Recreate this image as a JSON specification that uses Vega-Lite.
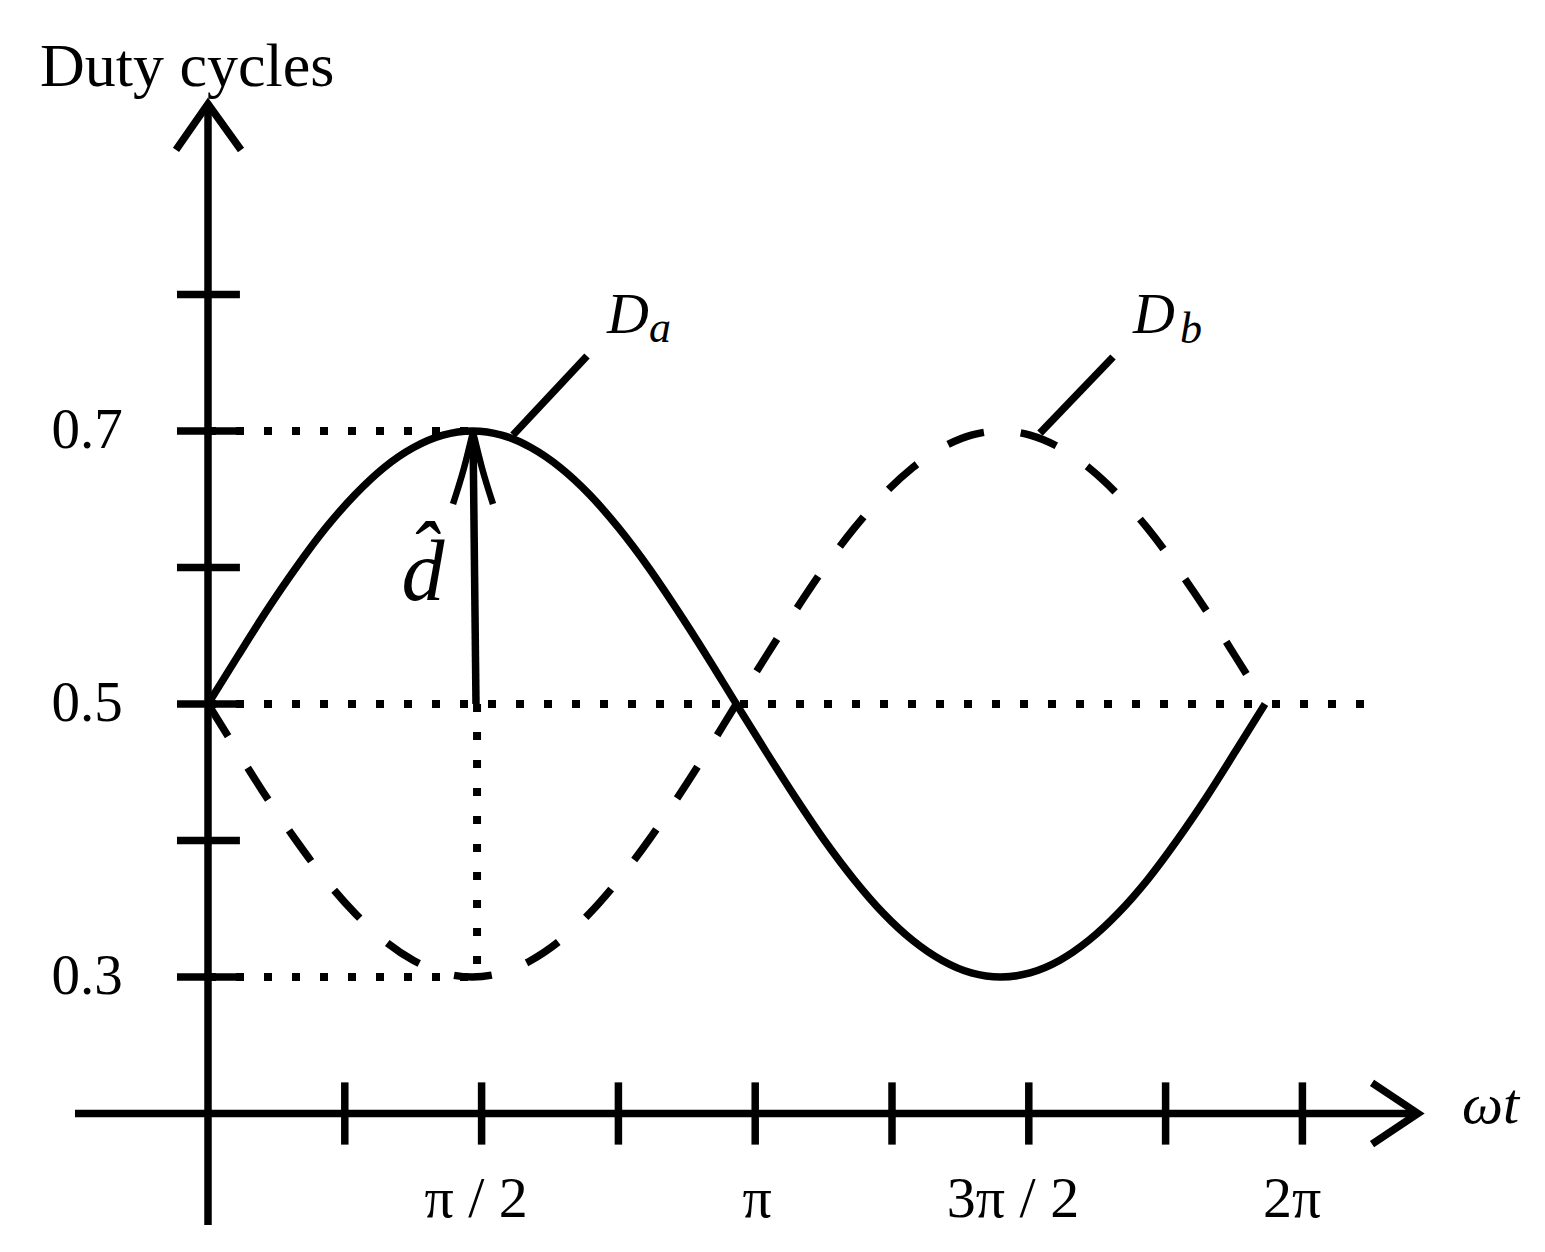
{
  "$schema": "https://vega.github.io/schema/vega-lite/v6.json",
  "width": 1545,
  "height": 1252,
  "autosize": {"type": "fit", "contains": "padding"},
  "padding": 0,
  "background": "white",
  "config": {"view": {"stroke": null}},
  "datasets": {
    "dotted": [
      {"x": 0, "y": 0.7, "x2": 86.9, "y2": 0.7},
      {"x": 0, "y": 0.5, "x2": 385.5, "y2": 0.5},
      {"x": 0, "y": 0.3, "x2": 89, "y2": 0.3},
      {"x": 88.5, "y": 0.5, "x2": 88.5, "y2": 0.3}
    ],
    "segments": [
      {"x": 0, "y": 0.1183, "x2": 0, "y2": 0.9396},
      {"x": -43.75, "y": 0.2, "x2": 398, "y2": 0.2},
      {"x": -10.2, "y": 0.3, "x2": 10.5, "y2": 0.3},
      {"x": -10.2, "y": 0.4, "x2": 10.5, "y2": 0.4},
      {"x": -10.2, "y": 0.5, "x2": 10.5, "y2": 0.5},
      {"x": -10.2, "y": 0.6, "x2": 10.5, "y2": 0.6},
      {"x": -10.2, "y": 0.7, "x2": 10.5, "y2": 0.7},
      {"x": -10.2, "y": 0.8, "x2": 10.5, "y2": 0.8},
      {"x": 45, "y": 0.1772, "x2": 45, "y2": 0.2228},
      {"x": 90, "y": 0.1772, "x2": 90, "y2": 0.2228},
      {"x": 135, "y": 0.1772, "x2": 135, "y2": 0.2228},
      {"x": 180, "y": 0.1772, "x2": 180, "y2": 0.2228},
      {"x": 225, "y": 0.1772, "x2": 225, "y2": 0.2228},
      {"x": 270, "y": 0.1772, "x2": 270, "y2": 0.2228},
      {"x": 315, "y": 0.1772, "x2": 315, "y2": 0.2228},
      {"x": 360, "y": 0.1772, "x2": 360, "y2": 0.2228},
      {"x": 100.33, "y": 0.6971, "x2": 124.67, "y2": 0.7549},
      {"x": 273.68, "y": 0.6985, "x2": 297.7, "y2": 0.7542},
      {"x": 88.16, "y": 0.5, "x2": 87.17, "y2": 0.6993}
    ],
    "heads": [
      {"g": "y", "o": 1, "x": -10.53, "y": 0.9059},
      {"g": "y", "o": 2, "x": 0, "y": 0.9396},
      {"g": "y", "o": 3, "x": 10.86, "y": 0.9059},
      {"g": "x", "o": 1, "x": 382.9, "y": 0.2224},
      {"g": "x", "o": 2, "x": 398, "y": 0.2},
      {"g": "x", "o": 3, "x": 382.9, "y": 0.1776}
    ],
    "dhead": [
      {"g": "l", "o": 1, "x": 87.17, "y": 0.6993},
      {"g": "l", "o": 2, "x": 84.21, "y": 0.6729},
      {"g": "l", "o": 3, "x": 80.59, "y": 0.6465},
      {"g": "r", "o": 1, "x": 87.17, "y": 0.6993},
      {"g": "r", "o": 2, "x": 90.13, "y": 0.6729},
      {"g": "r", "o": 3, "x": 93.75, "y": 0.6465}
    ],
    "da": [
      {"x": 0, "y": 0.5}, {"x": 9.7, "y": 0.5347}, {"x": 19.3, "y": 0.5684}, {"x": 29.0, "y": 0.6},
      {"x": 38.6, "y": 0.6286}, {"x": 48.3, "y": 0.6532}, {"x": 57.9, "y": 0.6732}, {"x": 67.6, "y": 0.6879},
      {"x": 77.3, "y": 0.697}, {"x": 86.9, "y": 0.7}, {"x": 96.6, "y": 0.697}, {"x": 106.2, "y": 0.6879},
      {"x": 115.9, "y": 0.6732}, {"x": 125.6, "y": 0.6532}, {"x": 135.2, "y": 0.6286}, {"x": 144.9, "y": 0.6},
      {"x": 154.5, "y": 0.5684}, {"x": 164.2, "y": 0.5347}, {"x": 173.8, "y": 0.5}, {"x": 183.5, "y": 0.4653},
      {"x": 193.2, "y": 0.4316}, {"x": 202.8, "y": 0.4}, {"x": 212.5, "y": 0.3714}, {"x": 222.1, "y": 0.3468},
      {"x": 231.8, "y": 0.3268}, {"x": 241.5, "y": 0.3121}, {"x": 251.1, "y": 0.303}, {"x": 260.8, "y": 0.3},
      {"x": 270.4, "y": 0.303}, {"x": 280.1, "y": 0.3121}, {"x": 289.7, "y": 0.3268}, {"x": 299.4, "y": 0.3468},
      {"x": 309.1, "y": 0.3714}, {"x": 318.7, "y": 0.4}, {"x": 328.4, "y": 0.4316}, {"x": 338.0, "y": 0.4653},
      {"x": 347.7, "y": 0.5}
    ],
    "db": [
      {"x": 0, "y": 0.5}, {"x": 9.7, "y": 0.4653}, {"x": 19.3, "y": 0.4316}, {"x": 29.0, "y": 0.4},
      {"x": 38.6, "y": 0.3714}, {"x": 48.3, "y": 0.3468}, {"x": 57.9, "y": 0.3268}, {"x": 67.6, "y": 0.3121},
      {"x": 77.3, "y": 0.303}, {"x": 86.9, "y": 0.3}, {"x": 96.6, "y": 0.303}, {"x": 106.2, "y": 0.3121},
      {"x": 115.9, "y": 0.3268}, {"x": 125.6, "y": 0.3468}, {"x": 135.2, "y": 0.3714}, {"x": 144.9, "y": 0.4},
      {"x": 154.5, "y": 0.4316}, {"x": 164.2, "y": 0.4653}, {"x": 173.8, "y": 0.5}, {"x": 183.5, "y": 0.5347},
      {"x": 193.2, "y": 0.5684}, {"x": 202.8, "y": 0.6}, {"x": 212.5, "y": 0.6286}, {"x": 222.1, "y": 0.6532},
      {"x": 231.8, "y": 0.6732}, {"x": 241.5, "y": 0.6879}, {"x": 251.1, "y": 0.697}, {"x": 260.8, "y": 0.7},
      {"x": 270.4, "y": 0.697}, {"x": 280.1, "y": 0.6879}, {"x": 289.7, "y": 0.6732}, {"x": 299.4, "y": 0.6532},
      {"x": 309.1, "y": 0.6286}, {"x": 318.7, "y": 0.6}, {"x": 328.4, "y": 0.5684}, {"x": 338.0, "y": 0.5347},
      {"x": 347.7, "y": 0.5}
    ],
    "ylabels": [
      {"x": -39.8, "y": 0.7, "t": "0.7"},
      {"x": -39.8, "y": 0.5, "t": "0.5"},
      {"x": -39.8, "y": 0.3, "t": "0.3"}
    ],
    "xlabels": [
      {"x": 88.2, "y": 0.1242, "t": "π / 2"},
      {"x": 180.6, "y": 0.1242, "t": "π"},
      {"x": 264.8, "y": 0.1242, "t": "3π / 2"},
      {"x": 356.6, "y": 0.1242, "t": "2π"}
    ],
    "title": [{"x": -55.3, "y": 0.9527, "t": "Duty cycles"}],
    "wt": [{"x": 412.5, "y": 0.193, "t": "ωt"}],
    "dlab": [
      {"x": 131.25, "y": 0.7718, "t": "D"},
      {"x": 304.28, "y": 0.7718, "t": "D"}
    ],
    "sub": [
      {"x": 145.07, "y": 0.7652, "t": "a"},
      {"x": 319.7, "y": 0.7645, "t": "b"}
    ],
    "dhat": [{"x": 70.72, "y": 0.5762, "t": "d̂"}]
  },
  "layer": [
    {
      "data": {"name": "dotted"},
      "mark": {"type": "rule", "color": "black", "strokeWidth": 8, "strokeDash": [8, 20], "strokeCap": "butt"},
      "encoding": {
        "x": {"field": "x", "type": "quantitative", "scale": {"domain": [-68.42, 439.8], "nice": false, "zero": false}, "axis": null},
        "y": {"field": "y", "type": "quantitative", "scale": {"domain": [0.09853, 1.01575], "nice": false, "zero": false}, "axis": null},
        "x2": {"field": "x2"},
        "y2": {"field": "y2"}
      }
    },
    {
      "data": {"name": "segments"},
      "mark": {"type": "rule", "color": "black", "strokeWidth": 7.5, "strokeCap": "butt"},
      "encoding": {
        "x": {"field": "x", "type": "quantitative", "scale": {"domain": [-68.42, 439.8], "nice": false, "zero": false}, "axis": null},
        "y": {"field": "y", "type": "quantitative", "scale": {"domain": [0.09853, 1.01575], "nice": false, "zero": false}, "axis": null},
        "x2": {"field": "x2"},
        "y2": {"field": "y2"}
      }
    },
    {
      "data": {"name": "heads"},
      "mark": {"type": "line", "color": "black", "strokeWidth": 7.5, "strokeCap": "butt", "strokeJoin": "miter"},
      "encoding": {
        "x": {"field": "x", "type": "quantitative", "scale": {"domain": [-68.42, 439.8], "nice": false, "zero": false}, "axis": null},
        "y": {"field": "y", "type": "quantitative", "scale": {"domain": [0.09853, 1.01575], "nice": false, "zero": false}, "axis": null},
        "detail": {"field": "g"},
        "order": {"field": "o"}
      }
    },
    {
      "data": {"name": "dhead"},
      "mark": {"type": "line", "color": "black", "strokeWidth": 6.5, "strokeCap": "butt", "interpolate": "monotone"},
      "encoding": {
        "x": {"field": "x", "type": "quantitative", "scale": {"domain": [-68.42, 439.8], "nice": false, "zero": false}, "axis": null},
        "y": {"field": "y", "type": "quantitative", "scale": {"domain": [0.09853, 1.01575], "nice": false, "zero": false}, "axis": null},
        "detail": {"field": "g"},
        "order": {"field": "o"}
      }
    },
    {
      "data": {"name": "da"},
      "mark": {"type": "line", "color": "black", "strokeWidth": 7.5, "interpolate": "monotone"},
      "encoding": {
        "x": {"field": "x", "type": "quantitative", "scale": {"domain": [-68.42, 439.8], "nice": false, "zero": false}, "axis": null},
        "y": {"field": "y", "type": "quantitative", "scale": {"domain": [0.09853, 1.01575], "nice": false, "zero": false}, "axis": null}
      }
    },
    {
      "data": {"name": "db"},
      "mark": {"type": "line", "color": "black", "strokeWidth": 7.5, "interpolate": "monotone", "strokeDash": [38, 37], "strokeCap": "butt"},
      "encoding": {
        "x": {"field": "x", "type": "quantitative", "scale": {"domain": [-68.42, 439.8], "nice": false, "zero": false}, "axis": null},
        "y": {"field": "y", "type": "quantitative", "scale": {"domain": [0.09853, 1.01575], "nice": false, "zero": false}, "axis": null}
      }
    },
    {
      "data": {"name": "ylabels"},
      "mark": {"type": "text", "font": "Liberation Serif", "fontSize": 57, "align": "center", "baseline": "alphabetic", "dy": 17, "color": "black"},
      "encoding": {
        "x": {"field": "x", "type": "quantitative", "scale": {"domain": [-68.42, 439.8], "nice": false, "zero": false}, "axis": null},
        "y": {"field": "y", "type": "quantitative", "scale": {"domain": [0.09853, 1.01575], "nice": false, "zero": false}, "axis": null},
        "text": {"field": "t"}
      }
    },
    {
      "data": {"name": "xlabels"},
      "mark": {"type": "text", "font": "Liberation Serif", "fontSize": 58, "align": "center", "baseline": "alphabetic", "color": "black"},
      "encoding": {
        "x": {"field": "x", "type": "quantitative", "scale": {"domain": [-68.42, 439.8], "nice": false, "zero": false}, "axis": null},
        "y": {"field": "y", "type": "quantitative", "scale": {"domain": [0.09853, 1.01575], "nice": false, "zero": false}, "axis": null},
        "text": {"field": "t"}
      }
    },
    {
      "data": {"name": "title"},
      "mark": {"type": "text", "font": "Liberation Serif", "fontSize": 62, "align": "left", "baseline": "alphabetic", "color": "black"},
      "encoding": {
        "x": {"field": "x", "type": "quantitative", "scale": {"domain": [-68.42, 439.8], "nice": false, "zero": false}, "axis": null},
        "y": {"field": "y", "type": "quantitative", "scale": {"domain": [0.09853, 1.01575], "nice": false, "zero": false}, "axis": null},
        "text": {"field": "t"}
      }
    },
    {
      "data": {"name": "wt"},
      "mark": {"type": "text", "font": "Liberation Serif", "fontSize": 58, "fontStyle": "italic", "align": "left", "baseline": "alphabetic", "color": "black"},
      "encoding": {
        "x": {"field": "x", "type": "quantitative", "scale": {"domain": [-68.42, 439.8], "nice": false, "zero": false}, "axis": null},
        "y": {"field": "y", "type": "quantitative", "scale": {"domain": [0.09853, 1.01575], "nice": false, "zero": false}, "axis": null},
        "text": {"field": "t"}
      }
    },
    {
      "data": {"name": "dlab"},
      "mark": {"type": "text", "font": "Liberation Serif", "fontSize": 58, "fontStyle": "italic", "align": "left", "baseline": "alphabetic", "color": "black"},
      "encoding": {
        "x": {"field": "x", "type": "quantitative", "scale": {"domain": [-68.42, 439.8], "nice": false, "zero": false}, "axis": null},
        "y": {"field": "y", "type": "quantitative", "scale": {"domain": [0.09853, 1.01575], "nice": false, "zero": false}, "axis": null},
        "text": {"field": "t"}
      }
    },
    {
      "data": {"name": "sub"},
      "mark": {"type": "text", "font": "Liberation Serif", "fontSize": 44, "fontStyle": "italic", "align": "left", "baseline": "alphabetic", "color": "black"},
      "encoding": {
        "x": {"field": "x", "type": "quantitative", "scale": {"domain": [-68.42, 439.8], "nice": false, "zero": false}, "axis": null},
        "y": {"field": "y", "type": "quantitative", "scale": {"domain": [0.09853, 1.01575], "nice": false, "zero": false}, "axis": null},
        "text": {"field": "t"}
      }
    },
    {
      "data": {"name": "dhat"},
      "mark": {"type": "text", "font": "Liberation Serif", "fontSize": 86, "fontStyle": "italic", "align": "center", "baseline": "alphabetic", "color": "black"},
      "encoding": {
        "x": {"field": "x", "type": "quantitative", "scale": {"domain": [-68.42, 439.8], "nice": false, "zero": false}, "axis": null},
        "y": {"field": "y", "type": "quantitative", "scale": {"domain": [0.09853, 1.01575], "nice": false, "zero": false}, "axis": null},
        "text": {"field": "t"}
      }
    }
  ]
}
